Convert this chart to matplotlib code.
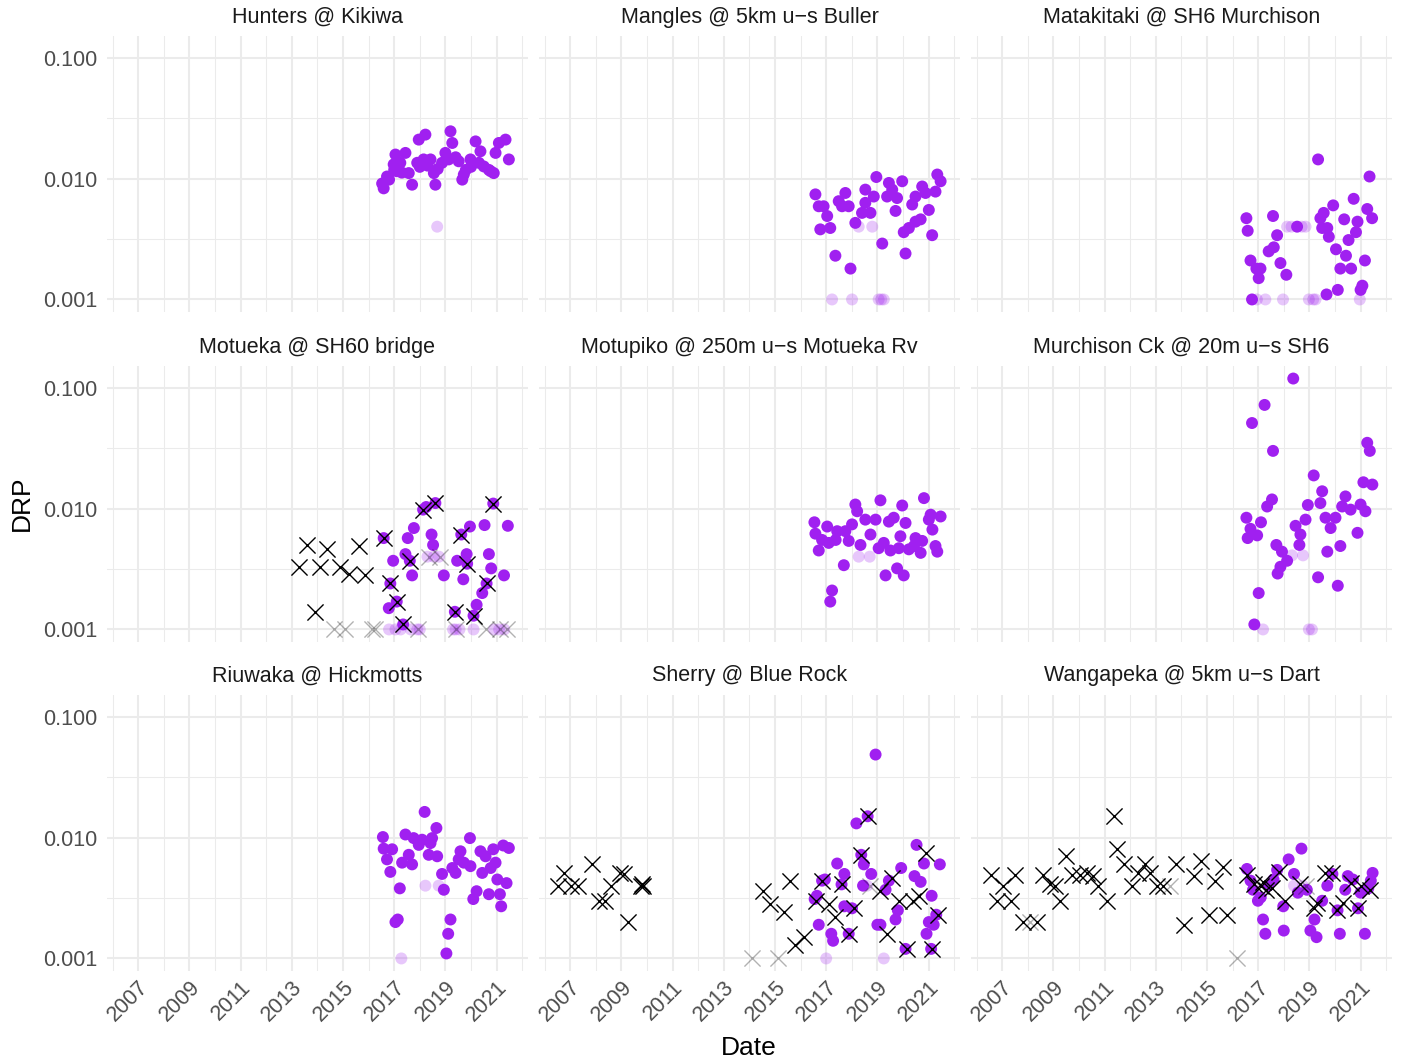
import matplotlib
matplotlib.use('Agg')
import matplotlib.pyplot as plt
import numpy as np

plt.rcParams['font.family'] = ['Liberation Sans', 'DejaVu Sans']

# ---------------- data (decimal year, DRP) ----------------
sites = ["Hunters @ Kikiwa", "Mangles @ 5km u\u2212s Buller", "Matakitaki @ SH6 Murchison",
         "Motueka @ SH60 bridge", "Motupiko @ 250m u\u2212s Motueka Rv", "Murchison Ck @ 20m u\u2212s SH6",
         "Riuwaka @ Hickmotts", "Sherry @ Blue Rock", "Wangapeka @ 5km u\u2212s Dart"]

hk_new = [(2016.59,0.0083),(2016.53,0.0091),(2016.72,0.0104),(2016.98,0.0131),(2017.05,0.0158),
          (2017.44,0.0163),(2017.24,0.0135),(2017.57,0.0111),(2017.70,0.0089),(2017.96,0.0210),
          (2018.22,0.0231),(2017.90,0.0135),(2018.15,0.0144),(2018.42,0.0144),(2018.55,0.0111),
          (2018.61,0.0089),(2018.87,0.0135),(2019.00,0.0163),(2019.20,0.0246),(2019.27,0.0197),
          (2019.13,0.0144),(2019.52,0.0139),(2019.66,0.0098),(2019.72,0.0108),(2019.98,0.0144),
          (2020.18,0.0203),(2020.37,0.0168),(2020.31,0.0135),(2020.50,0.0126),(2020.77,0.0115),
          (2020.89,0.0111),(2020.96,0.0163),(2021.09,0.0197),(2021.35,0.0210),(2021.48,0.0144),
          (2017.10,0.0115),(2018.00,0.0125),(2019.80,0.0118),(2020.70,0.0118),(2016.80,0.0098),
          (2017.00,0.0118),(2017.30,0.0112),(2018.30,0.0128),(2018.70,0.0120),(2019.40,0.0150),
          (2020.00,0.0125)]
hk_cens = [(2018.68,0.0040)]

mg_new = [(2016.58,0.0074),(2016.71,0.0059),(2016.90,0.0059),(2017.04,0.0049),(2016.77,0.0038),
          (2017.16,0.0039),(2017.36,0.0023),(2017.49,0.0065),(2017.75,0.0076),(2017.62,0.0059),
          (2017.88,0.0059),(2017.95,0.0018),(2018.14,0.0043),(2018.40,0.0052),(2018.53,0.0081),
          (2018.53,0.0063),(2018.73,0.0052),(2018.86,0.0071),(2018.96,0.0103),(2019.19,0.0029),
          (2019.45,0.0092),(2019.38,0.0071),(2019.58,0.0081),(2019.77,0.0069),(2019.71,0.0054),
          (2019.97,0.0095),(2020.03,0.0036),(2020.10,0.0024),(2020.23,0.0039),(2020.36,0.0061),
          (2020.49,0.0071),(2020.49,0.0044),(2020.75,0.0086),(2020.88,0.0076),(2021.01,0.0055),
          (2021.14,0.0034),(2021.27,0.0078),(2021.34,0.0108),(2021.47,0.0095),(2020.69,0.0046)]
mg_cens = [(2017.23,0.0010),(2018.01,0.0010),(2018.27,0.0040),(2018.80,0.0040),(2019.05,0.0010),
           (2019.25,0.0010),(2019.15,0.0010)]

mt_new = [(2016.54,0.0047),(2016.59,0.0037),(2016.76,0.0010),(2016.70,0.0021),(2016.93,0.0018),
          (2017.09,0.0018),(2017.02,0.0015),(2017.58,0.0049),(2017.41,0.0025),(2017.61,0.0027),
          (2017.74,0.0034),(2017.87,0.0020),(2018.10,0.0016),(2018.52,0.0040),(2019.34,0.0144),
          (2019.43,0.0047),(2019.56,0.0052),(2019.50,0.0039),(2019.70,0.0039),(2019.76,0.0033),
          (2019.93,0.0060),(2019.67,0.0011),(2020.04,0.0026),(2020.11,0.0012),(2020.36,0.0046),
          (2020.43,0.0023),(2020.21,0.0018),(2020.63,0.0018),(2020.53,0.0031),(2020.73,0.0068),
          (2020.88,0.0044),(2020.82,0.0036),(2021.17,0.0021),(2021.07,0.0013),(2021.00,0.0012),
          (2021.26,0.0056),(2021.45,0.0047),(2021.35,0.0104)]
mt_cens = [(2016.95,0.0010),(2017.28,0.0010),(2017.97,0.0010),(2018.13,0.0040),(2018.30,0.0040),
           (2018.70,0.0040),(2018.85,0.0040),(2018.98,0.0010),(2019.15,0.0010),(2019.24,0.0010),
           (2020.97,0.0010)]

mo_new = [(2016.59,0.0057),(2016.96,0.0037),(2016.85,0.0024),(2016.79,0.0015),(2017.10,0.0017),
          (2017.35,0.0011),(2017.53,0.0057),(2017.77,0.0069),(2017.44,0.0042),(2017.70,0.0028),
          (2018.13,0.0098),(2018.25,0.0103),(2018.46,0.0061),(2018.52,0.0050),(2018.61,0.0111),
          (2018.94,0.0028),(2019.46,0.0037),(2019.70,0.0026),(2019.83,0.0042),(2019.96,0.0071),
          (2019.37,0.0014),(2020.10,0.0013),(2020.22,0.0016),(2020.44,0.0020),(2020.53,0.0073),
          (2020.70,0.0042),(2020.79,0.0032),(2020.87,0.0110),(2021.29,0.0028),(2021.44,0.0072),
          (2017.61,0.0037),(2019.62,0.0061),(2019.85,0.0035),(2020.61,0.0024)]
mo_cens = [(2016.80,0.0010),(2017.05,0.0010),(2017.25,0.0010),(2017.65,0.0010),(2017.90,0.0010),
           (2018.00,0.0010),(2018.30,0.0040),(2018.55,0.0040),(2018.75,0.0040),(2019.30,0.0010),
           (2019.40,0.0010),(2019.55,0.0010),(2020.10,0.0010),(2020.90,0.0010),(2021.10,0.0010),
           (2021.30,0.0010)]
mo_old = [(2013.61,0.0050),(2013.30,0.0033),(2013.92,0.0014),(2014.11,0.0033),(2014.37,0.0046),
          (2014.87,0.0033),(2015.22,0.0029),(2015.61,0.0049),(2015.87,0.0028),(2016.59,0.0057),
          (2016.85,0.0024),(2017.11,0.0017),(2017.35,0.0011),(2017.61,0.0037),(2018.13,0.0098),
          (2018.61,0.0111),(2019.62,0.0061),(2019.85,0.0035),(2019.37,0.0014),(2020.11,0.0013),
          (2020.61,0.0024),(2020.87,0.0110)]
mo_old_cens = [(2014.63,0.0010),(2015.09,0.0010),(2016.13,0.0010),(2016.26,0.0010),(2017.95,0.0010),
               (2018.35,0.0040),(2018.80,0.0040),(2019.40,0.0010),(2020.60,0.0010),(2021.15,0.0010),
               (2021.40,0.0010)]

mp_new = [(2016.54,0.0077),(2016.58,0.0062),(2016.71,0.0045),(2016.84,0.0055),(2017.04,0.0071),
          (2017.10,0.0052),(2017.23,0.0021),(2017.16,0.0017),(2017.43,0.0065),(2017.37,0.0055),
          (2017.69,0.0034),(2017.75,0.0065),(2017.88,0.0054),(2018.01,0.0074),(2018.14,0.0108),
          (2018.21,0.0095),(2018.34,0.0050),(2018.53,0.0081),(2018.73,0.0061),(2018.93,0.0081),
          (2019.12,0.0117),(2019.05,0.0047),(2019.25,0.0052),(2019.32,0.0028),(2019.45,0.0078),
          (2019.64,0.0084),(2019.51,0.0045),(2019.77,0.0032),(2019.90,0.0059),(2019.84,0.0047),
          (2019.97,0.0106),(2020.03,0.0028),(2020.10,0.0076),(2020.23,0.0046),(2020.49,0.0057),
          (2020.43,0.0049),(2020.69,0.0043),(2020.75,0.0054),(2020.82,0.0122),(2021.01,0.0081),
          (2021.15,0.0067),(2021.08,0.0089),(2021.27,0.0049),(2021.47,0.0086),(2021.34,0.0044)]
mp_cens = [(2018.27,0.0040),(2018.70,0.0040)]

mc_new = [(2018.37,0.119),(2017.25,0.072),(2016.76,0.051),(2017.58,0.030),(2019.17,0.0188),
          (2021.26,0.035),(2021.36,0.030),(2021.11,0.0165),(2021.46,0.0158),(2019.50,0.0139),
          (2019.43,0.0111),(2018.94,0.0107),(2017.54,0.0119),(2017.35,0.0104),(2016.54,0.0084),
          (2017.11,0.0077),(2016.70,0.0068),(2016.59,0.0057),(2016.96,0.0060),(2017.71,0.0050),
          (2017.93,0.0044),(2018.13,0.0037),(2017.87,0.0033),(2017.76,0.0029),(2017.02,0.0020),
          (2016.85,0.0011),(2018.46,0.0072),(2018.65,0.0061),(2018.61,0.0050),(2018.85,0.0081),
          (2019.34,0.0027),(2019.63,0.0084),(2019.70,0.0044),(2019.83,0.0069),(2020.02,0.0084),
          (2020.11,0.0023),(2020.21,0.0049),(2020.41,0.0126),(2020.28,0.0104),(2020.61,0.0098),
          (2021.00,0.0108),(2021.19,0.0095),(2020.88,0.0063)]
mc_cens = [(2017.19,0.0010),(2018.32,0.0041),(2018.75,0.0041),(2018.98,0.0010),(2019.10,0.0010)]

rw_new = [(2016.56,0.0101),(2016.59,0.0081),(2016.72,0.0066),(2016.92,0.0080),(2016.85,0.0052),
          (2017.22,0.0038),(2017.05,0.0020),(2017.14,0.0021),(2017.44,0.0106),(2017.31,0.0062),
          (2017.57,0.0072),(2017.70,0.0060),(2017.76,0.0099),(2017.96,0.0087),(2018.19,0.0163),
          (2018.09,0.0096),(2018.35,0.0072),(2018.42,0.0090),(2018.48,0.0099),(2018.65,0.0120),
          (2018.68,0.0070),(2018.87,0.0050),(2018.94,0.0037),(2019.04,0.0011),(2019.11,0.0016),
          (2019.20,0.0021),(2019.27,0.0056),(2019.40,0.0051),(2019.52,0.0066),(2019.59,0.0077),
          (2019.72,0.0062),(2019.96,0.0099),(2019.98,0.0058),(2020.09,0.0031),(2020.22,0.0036),
          (2020.37,0.0077),(2020.44,0.0051),(2020.57,0.0070),(2020.70,0.0034),(2020.77,0.0056),
          (2020.87,0.0080),(2020.96,0.0062),(2021.03,0.0045),(2021.13,0.0034),(2021.18,0.0027),
          (2021.26,0.0086),(2021.48,0.0082),(2021.39,0.0042)]
rw_cens = [(2017.28,0.0010),(2018.22,0.0040),(2018.74,0.0040)]

sh_new = [(2018.93,0.0486),(2018.18,0.0131),(2018.62,0.0150),(2017.43,0.0061),(2017.71,0.0050),
          (2018.37,0.0072),(2018.47,0.0060),(2018.76,0.0050),(2018.44,0.0040),(2019.93,0.0056),
          (2019.45,0.0044),(2019.32,0.0037),(2020.45,0.0048),(2020.69,0.0043),(2020.53,0.0087),
          (2020.82,0.0061),(2021.44,0.0060),(2016.71,0.0019),(2016.64,0.0033),(2016.55,0.0031),
          (2016.95,0.0045),(2017.20,0.0016),(2017.27,0.0014),(2017.71,0.0027),(2018.01,0.0026),
          (2017.88,0.0016),(2019.00,0.0019),(2019.12,0.0019),(2019.71,0.0021),(2019.80,0.0025),
          (2020.10,0.0012),(2020.92,0.0016),(2021.01,0.0020),(2021.20,0.0019),(2021.10,0.0012),
          (2021.30,0.0023),(2021.12,0.0033),(2016.84,0.0044),(2017.60,0.0041)]
sh_cens = [(2017.00,0.0010),(2019.25,0.0010),(2018.60,0.0040)]
sh_old = [(2006.53,0.0040),(2006.75,0.0051),(2007.05,0.0040),(2007.31,0.0040),(2007.84,0.0061),
          (2008.13,0.0030),(2008.36,0.0030),(2008.58,0.0040),(2008.95,0.0051),(2009.10,0.0050),
          (2009.27,0.0020),(2009.75,0.0040),(2009.80,0.0041),(2009.85,0.0040),(2014.53,0.0036),
          (2014.79,0.0028),(2015.34,0.0024),(2015.60,0.0044),(2015.79,0.0013),(2016.12,0.0015),
          (2016.84,0.0044),(2016.62,0.0030),(2017.10,0.0028),(2017.36,0.0022),(2017.62,0.0041),
          (2017.88,0.0016),(2018.10,0.0026),(2018.37,0.0072),(2018.62,0.0152),(2019.09,0.0036),
          (2019.38,0.0016),(2019.58,0.0046),(2019.84,0.0030),(2020.14,0.0012),(2020.40,0.0030),
          (2020.62,0.0033),(2020.88,0.0075),(2021.14,0.0012),(2021.36,0.0023)]
sh_old_cens = [(2014.10,0.0010),(2015.10,0.0010),(2018.73,0.0040)]

wp_new = [(2016.56,0.0055),(2016.70,0.0044),(2016.80,0.0037),(2016.99,0.0030),(2017.19,0.0021),
          (2017.28,0.0016),(2017.74,0.0054),(2018.19,0.0066),(2018.69,0.0081),(2018.00,0.0017),
          (2017.98,0.0027),(2018.40,0.0050),(2018.90,0.0037),(2019.04,0.0017),(2019.20,0.0021),
          (2019.28,0.0015),(2019.50,0.0030),(2019.70,0.0040),(2020.19,0.0016),(2020.10,0.0025),
          (2020.50,0.0048),(2020.40,0.0037),(2020.90,0.0026),(2021.00,0.0035),(2021.17,0.0016),
          (2021.47,0.0051),(2021.40,0.0044),(2017.40,0.0040),(2017.60,0.0045),(2019.90,0.0050),
          (2020.70,0.0045),(2021.30,0.0038),(2018.55,0.0035),(2017.10,0.0032)]
wp_cens = [(2018.40,0.0040),(2018.75,0.0040)]
wp_old = [(2006.55,0.0049),(2007.04,0.0040),(2006.78,0.0030),(2007.33,0.0030),(2007.50,0.0049),
          (2007.82,0.0020),(2008.35,0.0020),(2008.60,0.0049),(2008.87,0.0041),(2009.06,0.0040),
          (2009.26,0.0030),(2009.49,0.0070),(2009.72,0.0049),(2010.04,0.0049),(2010.30,0.0051),
          (2010.56,0.0048),(2010.76,0.0040),(2011.09,0.0030),(2011.37,0.0150),(2011.48,0.0080),
          (2011.76,0.0060),(2012.07,0.0040),(2012.32,0.0051),(2012.58,0.0060),(2012.78,0.0051),
          (2013.04,0.0040),(2013.28,0.0040),(2013.80,0.0060),(2014.11,0.0019),(2014.50,0.0048),
          (2014.78,0.0064),(2015.06,0.0023),(2015.32,0.0044),(2015.63,0.0057),(2015.79,0.0023),
          (2016.56,0.0049),(2016.82,0.0041),(2017.10,0.0040),(2017.30,0.0037),(2017.80,0.0052),
          (2018.06,0.0030),(2018.65,0.0041),(2019.17,0.0026),(2019.30,0.0029),(2019.60,0.0051),
          (2019.90,0.0051),(2020.09,0.0025),(2020.30,0.0029),(2020.63,0.0042),(2020.89,0.0026),
          (2021.00,0.0040),(2021.36,0.0037),(2017.55,0.0038),(2017.20,0.0043)]
wp_old_cens = [(2008.10,0.0020),(2013.55,0.0040),(2016.17,0.0010),(2018.85,0.0040)]

site_new = [hk_new, mg_new, mt_new, mo_new, mp_new, mc_new, rw_new, sh_new, wp_new]
site_cens = [hk_cens, mg_cens, mt_cens, mo_cens, mp_cens, mc_cens, rw_cens, sh_cens, wp_cens]
site_old = [[], [], [], mo_old, [], [], [], sh_old, wp_old]
site_old_cens = [[], [], [], mo_old_cens, [], [], [], sh_old_cens, wp_old_cens]

x_major = [2007, 2009, 2011, 2013, 2015, 2017, 2019, 2021]
x_minor = [2006, 2008, 2010, 2012, 2014, 2016, 2018, 2020, 2022]
y_major = [0.001, 0.01, 0.1]
y_labels = ["0.001", "0.010", "0.100"]

# ---------------- style ----------------
PURPLE = '#A020F0'
GRID = '#EBEBEB'
TICKCOL = '#4D4D4D'
W, H = 1401, 1063
fig = plt.figure(figsize=(W / 100, H / 100), dpi=100)

allpts = [p for group in (site_new + site_cens + site_old + site_old_cens) for p in group]
xs = np.array([p[0] for p in allpts])
ys = np.log10([p[1] for p in allpts])
xr = xs.max() - xs.min()
xlim = (xs.min() - 0.05 * xr, xs.max() + 0.05 * xr)
yr = ys.max() - ys.min()
ylim = (10 ** (ys.min() - 0.05 * yr), 10 ** (ys.max() + 0.05 * yr))

col_left = [107, 539, 971]
row_top = [36, 366, 695]
pw, ph = 421, 276

for i, name in enumerate(sites):
    r, c = divmod(i, 3)
    ax = fig.add_axes([col_left[c] / W, 1 - (row_top[r] + ph) / H, pw / W, ph / H])
    ax.set_yscale('log')
    ax.set_xlim(*xlim)
    ax.set_ylim(*ylim)
    for s in ax.spines.values():
        s.set_visible(False)
    ax.set_xticks(x_major)
    ax.set_xticks(x_minor, minor=True)
    ax.set_yticks(y_major)
    ax.set_yticks([10 ** -2.5, 10 ** -1.5], minor=True)
    ax.grid(which='major', color=GRID, lw=1.5, zorder=0)
    ax.grid(which='minor', color=GRID, lw=0.75, zorder=0)
    ax.set_axisbelow(True)
    ax.tick_params(which='both', length=0, colors=TICKCOL, labelsize=15.5)
    ax.tick_params(axis='y', pad=7)
    ax.tick_params(axis='x', pad=4)
    if c == 0:
        ax.set_yticklabels(y_labels)
    else:
        ax.set_yticklabels([])
    ax.yaxis.set_minor_formatter(matplotlib.ticker.NullFormatter())
    if r == 2:
        ax.set_xticklabels([str(v) for v in x_major], rotation=45, ha='right', va='top',
                           rotation_mode='anchor')
    else:
        ax.set_xticklabels([])

    new = site_new[i]
    cens = site_cens[i]
    old = site_old[i]
    oldc = site_old_cens[i]
    if cens:
        ax.scatter([p[0] for p in cens], [p[1] for p in cens], s=74, c=PURPLE,
                   alpha=0.25, edgecolors='none', zorder=2, clip_on=False)
    if new:
        ax.scatter([p[0] for p in new], [p[1] for p in new], s=74, c=PURPLE,
                   edgecolors='none', zorder=3, clip_on=False)
    if oldc:
        ax.scatter([p[0] for p in oldc], [p[1] for p in oldc], s=135, c='black', marker='x',
                   linewidths=1.0, alpha=0.3, zorder=4, clip_on=False)
    if old:
        ax.scatter([p[0] for p in old], [p[1] for p in old], s=135, c='black', marker='x',
                   linewidths=1.0, zorder=5, clip_on=False)

    ax.text(0.5, 1 + 19 / ph, name, transform=ax.transAxes, ha='center', va='center',
            fontsize=15.5, color='#1A1A1A')

fig.text(749 / W, 1 - 1048 / H, 'Date', ha='center', va='center', fontsize=19)
fig.text(22 / W, 1 - 503 / H, 'DRP', ha='center', va='center', rotation=90, fontsize=19)

fig.savefig('out.png', dpi=100, facecolor='white')
